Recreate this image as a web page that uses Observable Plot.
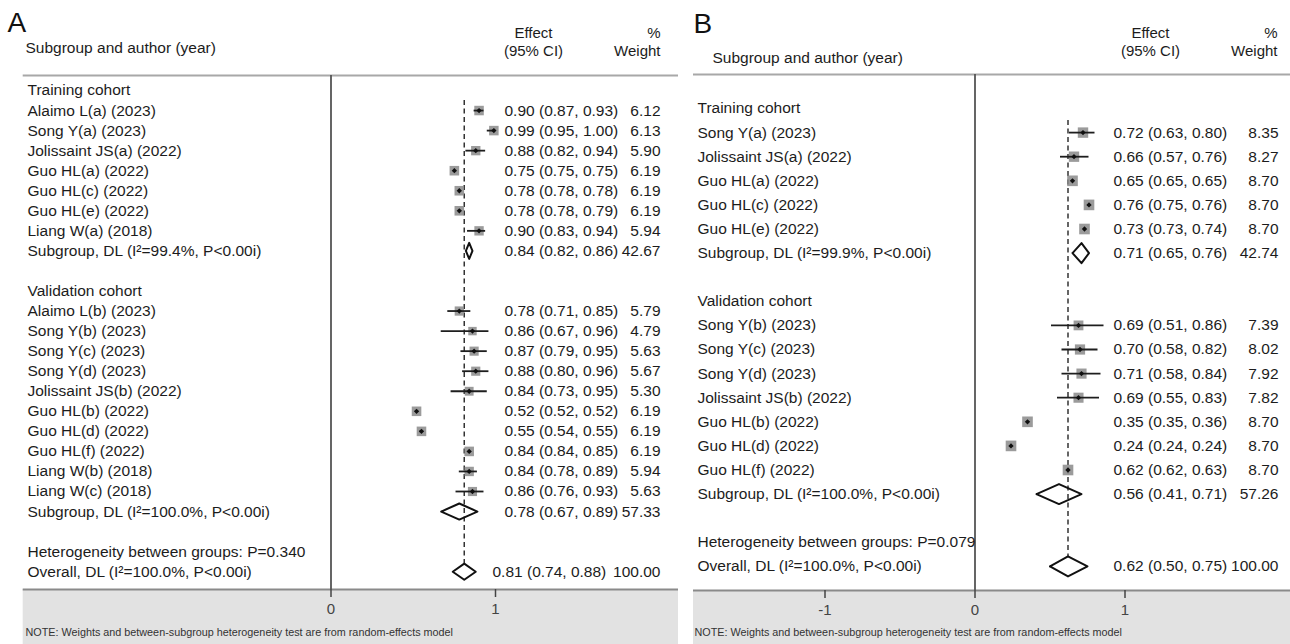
<!DOCTYPE html>
<html><head><meta charset="utf-8">
<script src="https://cdn.jsdelivr.net/npm/d3@7"></script>
<script src="https://cdn.jsdelivr.net/npm/@observablehq/plot@0.6"></script>
<style>
body{margin:0;background:#fff;}
#wrap{display:flex;width:1290px;height:644px;overflow:hidden;}
#wrap svg{overflow:visible;}
</style></head><body><div id="wrap"></div>
<script>
// ---------- Panel A data ----------
const aGroupNames = ["Training cohort", "Validation cohort"];
const aTrainLabels = ["Alaimo L(a) (2023)","Song Y(a) (2023)","Jolissaint JS(a) (2022)","Guo HL(a) (2022)","Guo HL(c) (2022)","Guo HL(e) (2022)","Liang W(a) (2018)"];
const aTrainES = [0.90,0.99,0.88,0.75,0.78,0.78,0.90];
const aTrainLo = [0.87,0.95,0.82,0.75,0.78,0.78,0.83];
const aTrainHi = [0.93,1.00,0.94,0.75,0.78,0.79,0.94];
const aTrainW  = [6.12,6.13,5.90,6.19,6.19,6.19,5.94];
const aValidLabels = ["Alaimo L(b) (2023)","Song Y(b) (2023)","Song Y(c) (2023)","Song Y(d) (2023)","Jolissaint JS(b) (2022)","Guo HL(b) (2022)","Guo HL(d) (2022)","Guo HL(f) (2022)","Liang W(b) (2018)","Liang W(c) (2018)"];
const aValidES = [0.78,0.86,0.87,0.88,0.84,0.52,0.55,0.84,0.84,0.86];
const aValidLo = [0.71,0.67,0.79,0.80,0.73,0.52,0.54,0.84,0.78,0.76];
const aValidHi = [0.85,0.96,0.95,0.96,0.95,0.52,0.55,0.85,0.89,0.93];
const aValidW  = [5.79,4.79,5.63,5.67,5.30,6.19,6.19,6.19,5.94,5.63];
const aSubI2 = ["99.4%","100.0%"];
const aSubES = [0.84,0.78];
const aSubLo = [0.82,0.67];
const aSubHi = [0.86,0.89];
const aSubW  = [42.67,57.33];
const aHetP = "0.340";
const aOverall = [0.81,0.74,0.88,100.00]; // es, lo, hi, weight
const aOverallI2 = "100.0%";
const aTicks = [0,1];

// ---------- Panel B data ----------
const bGroupNames = ["Training cohort", "Validation cohort"];
const bTrainLabels = ["Song Y(a) (2023)","Jolissaint JS(a) (2022)","Guo HL(a) (2022)","Guo HL(c) (2022)","Guo HL(e) (2022)"];
const bTrainES = [0.72,0.66,0.65,0.76,0.73];
const bTrainLo = [0.63,0.57,0.65,0.75,0.73];
const bTrainHi = [0.80,0.76,0.65,0.76,0.74];
const bTrainW  = [8.35,8.27,8.70,8.70,8.70];
const bValidLabels = ["Song Y(b) (2023)","Song Y(c) (2023)","Song Y(d) (2023)","Jolissaint JS(b) (2022)","Guo HL(b) (2022)","Guo HL(d) (2022)","Guo HL(f) (2022)"];
const bValidES = [0.69,0.70,0.71,0.69,0.35,0.24,0.62];
const bValidLo = [0.51,0.58,0.58,0.55,0.35,0.24,0.62];
const bValidHi = [0.86,0.82,0.84,0.83,0.36,0.24,0.63];
const bValidW  = [7.39,8.02,7.92,7.82,8.70,8.70,8.70];
const bSubI2 = ["99.9%","100.0%"];
const bSubES = [0.71,0.56];
const bSubLo = [0.65,0.41];
const bSubHi = [0.76,0.71];
const bSubW  = [42.74,57.26];
const bHetP = "0.079";
const bOverall = [0.62,0.50,0.75,100.00];
const bOverallI2 = "100.0%";
const bTicks = [-1,0,1];

const noteText = "NOTE: Weights and between-subgroup heterogeneity test are from random-effects model";
const FONT = '"Liberation Sans", Arial, Helvetica, sans-serif';
const H = 644;

function buildRows(groupNames, studies, subs, hetP, overall, overallI2) {
  const rows = [];
  let r = 0;
  groupNames.forEach((g, gi) => {
    rows.push({row: r++, label: g, type: "head"});
    const s = studies[gi];
    s.labels.forEach((lab, i) => rows.push({row: r++, label: lab, type: "study", group: gi,
      es: s.es[i], lo: s.lo[i], hi: s.hi[i], w: s.w[i]}));
    rows.push({row: r++, label: `Subgroup, DL (I\u00B2=${subs.i2[gi]}, P<0.00i)`, type: "sub", group: gi,
      es: subs.es[gi], lo: subs.lo[gi], hi: subs.hi[gi], w: subs.w[gi]});
    r++;
  });
  rows.push({row: r++, label: `Heterogeneity between groups: P=${hetP}`, type: "het"});
  rows.push({row: r++, label: `Overall, DL (I\u00B2=${overallI2}, P<0.00i)`, type: "overall",
    es: overall[0], lo: overall[1], hi: overall[2], w: overall[3]});
  rows.forEach(d => {
    if (d.es !== undefined) {
      d.eff = `${d.es.toFixed(2)} (${d.lo.toFixed(2)}, ${d.hi.toFixed(2)})`;
      d.wt = d.w.toFixed(2);
    }
  });
  return rows;
}

function panel(rows, g) {
  const mL = g.left, mR = g.width - g.right, mT = g.ruleTop, mB = H - g.ruleBottom;
  const xd = [(g.left - g.zero) / g.unit, (g.right - g.zero) / g.unit];
  const yd = [(g.ruleTop - g.rowTop) / g.step, (g.ruleBottom - g.rowTop) / g.step];
  const at = (px, py) => ({frameAnchor: "top-left", lineAnchor: "middle", dx: px - mL, dy: py - mT});
  const col = (px) => ({frameAnchor: "left", dx: px - mL});
  const studies = rows.filter(d => d.type === "study");
  const pooled = rows.filter(d => d.type === "sub" || d.type === "overall");
  const overall = rows.find(d => d.type === "overall");
  const diam = [];
  pooled.forEach((d, i) => {
    const h = g.dh;
    [[d.lo, d.row], [d.es, d.row - h], [d.hi, d.row], [d.es, d.row + h], [d.lo, d.row]]
      .forEach(([x, y]) => diam.push({x, y, id: i}));
  });
  const txt = {fontFamily: FONT, fontSize: 15.5, fill: "#1c1c1c"};
  const effRows = rows.filter(d => d.eff && d.type !== "overall");
  return Plot.plot({
    width: g.width, height: H,
    marginLeft: mL, marginRight: mR, marginTop: mT, marginBottom: mB,
    x: {domain: xd, axis: null},
    y: {domain: yd, reverse: true, axis: null},
    r: {type: "sqrt", domain: [0, g.maxW], range: [0, g.rMax]},
    style: {fontFamily: FONT, background: "white", overflow: "visible"},
    marks: [
      Plot.rect([0], {x1: xd[0], x2: xd[1], y1: yd[1], y2: yd[1] + mB / g.step, fill: "#e2e2e2"}),
      Plot.ruleY([yd[0]], {stroke: "#a8a8a8", strokeWidth: 2}),
      Plot.ruleY([yd[1]], {stroke: "#8a8a8a", strokeWidth: 2}),
      Plot.ruleX([0], {y1: yd[0], y2: yd[1], stroke: "#555", strokeWidth: 1.8}),
      Plot.axisX(g.ticks, {tickSize: 8, tickPadding: 6, fontSize: 15, color: "#444", strokeWidth: 1.5,
        tickFormat: d => String(d), fontFamily: FONT}),
      Plot.ruleX([overall.es], {y1: 0.5, y2: overall.row - g.dh, stroke: "#333", strokeWidth: 1.5, strokeDasharray: "5,3.5"}),
      Plot.dot(studies, {x: "es", y: "row", r: "w", symbol: "square", fill: "#8a8a8a", fillOpacity: 0.85}),
      Plot.ruleY(studies, {y: "row", x1: "lo", x2: "hi", stroke: "#1e1e1e", strokeWidth: 1.8}),
      Plot.dot(studies, {x: "es", y: "row", r: 2.4, symbol: "diamond2", fill: "#111"}),
      Plot.line(diam, {x: "x", y: "y", z: "id", stroke: "#111", strokeWidth: 2, curve: "linear"}),
      // row labels
      Plot.text(rows, {y: "row", text: "label", ...col(g.labelX), textAnchor: "start", ...txt}),
      Plot.text(effRows, {y: "row", text: "eff", ...col(g.effX), textAnchor: "start", ...txt}),
      Plot.text([overall], {y: "row", text: "eff", ...col(g.effOverallX), textAnchor: "start", ...txt}),
      Plot.text(rows.filter(d => d.wt), {y: "row", text: "wt", ...col(g.wtX), textAnchor: "end", ...txt}),
      // headers
      Plot.text([g.letter], {...at(g.letterX, g.letterY), textAnchor: "start", fontSize: 28, fontFamily: FONT, fill: "#111"}),
      Plot.text(["Subgroup and author (year)"], {...at(g.subHX, g.subHY), textAnchor: "start", ...txt, fontSize: 15.5}),
      Plot.text(["Effect"], {...at(g.effHX, 33), textAnchor: "middle", ...txt, fontSize: 15}),
      Plot.text(["(95% CI)"], {...at(g.effHX, 51), textAnchor: "middle", ...txt, fontSize: 15}),
      Plot.text(["%"], {...at(g.wtHX, 33), textAnchor: "end", ...txt, fontSize: 15}),
      Plot.text(["Weight"], {...at(g.wtHX, 51), textAnchor: "end", ...txt, fontSize: 15}),
      Plot.text([noteText], {...at(g.noteX, 632), textAnchor: "start", fontFamily: FONT, fontSize: 10.8, fill: "#333"})
    ]
  });
}

const aRows = buildRows(aGroupNames,
  [{labels: aTrainLabels, es: aTrainES, lo: aTrainLo, hi: aTrainHi, w: aTrainW},
   {labels: aValidLabels, es: aValidES, lo: aValidLo, hi: aValidHi, w: aValidW}],
  {i2: aSubI2, es: aSubES, lo: aSubLo, hi: aSubHi, w: aSubW}, aHetP, aOverall, aOverallI2);
const bRows = buildRows(bGroupNames,
  [{labels: bTrainLabels, es: bTrainES, lo: bTrainLo, hi: bTrainHi, w: bTrainW},
   {labels: bValidLabels, es: bValidES, lo: bValidLo, hi: bValidHi, w: bValidW}],
  {i2: bSubI2, es: bSubES, lo: bSubLo, hi: bSubHi, w: bSubW}, bHetP, bOverall, bOverallI2);

const geomA = {width: 686, left: 22.7, right: 678, zero: 330.5, unit: 164.5, rowTop: 90, step: 20.05,
  ruleTop: 75, ruleBottom: 589, dh: 0.4, maxW: 6.19, rMax: 5.4, ticks: aTicks,
  labelX: 27, effX: 504, effOverallX: 492, wtX: 660, letter: "A", letterX: 7, letterY: 23,
  subHX: 25, subHY: 48, effHX: 533, wtHX: 660, noteX: 25};
const geomB = {width: 604, left: 7, right: 604, zero: 288.5, unit: 150, rowTop: 108, step: 24.1,
  ruleTop: 74, ruleBottom: 590, dh: 0.415, maxW: 8.70, rMax: 6.0, ticks: bTicks,
  labelX: 11, effX: 427, effOverallX: 427, wtX: 592, letter: "B", letterX: 7, letterY: 24,
  subHX: 26, subHY: 58, effHX: 464, wtHX: 591, noteX: 8};

const wrap = document.getElementById("wrap");
wrap.append(panel(aRows, geomA));
wrap.append(panel(bRows, geomB));
</script></body></html>
